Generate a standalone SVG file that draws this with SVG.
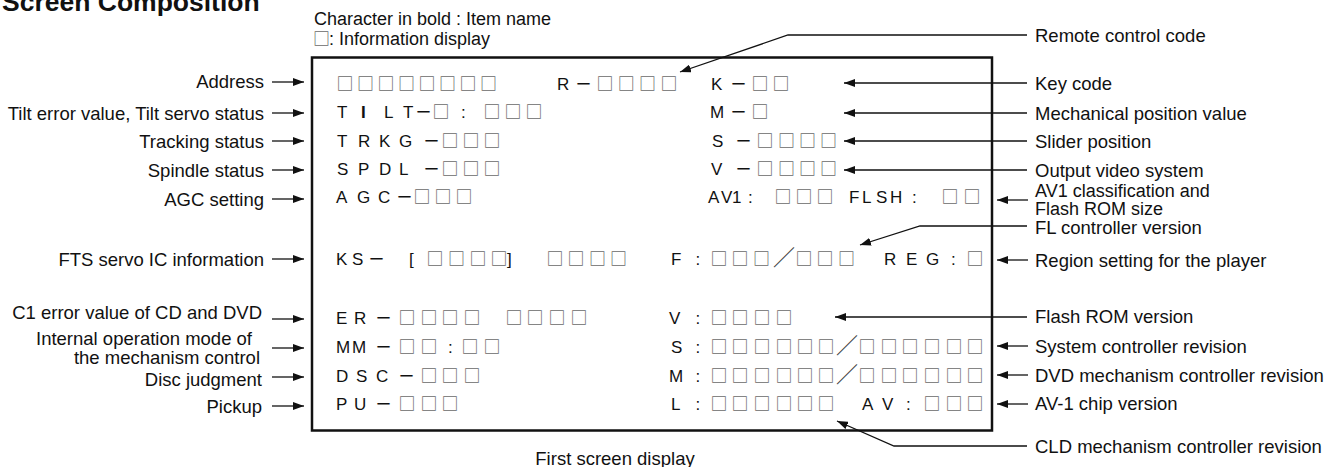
<svg xmlns="http://www.w3.org/2000/svg" width="1327" height="467" viewBox="0 0 1327 467">
<style>
.lbl{font-family:"Liberation Sans",Arial,sans-serif;font-size:18.5px;fill:#111}
.lg{font-family:"Liberation Sans",Arial,sans-serif;font-size:18px;fill:#111}
.ttl{font-family:"Liberation Sans",Arial,sans-serif;font-size:26.5px;font-weight:bold;fill:#111}
.b{font-family:"Liberation Sans",Arial,sans-serif;font-size:17px;fill:#111}
.q{font-family:"Noto Sans CJK JP",sans-serif;font-size:17px;font-weight:500;fill:#6a6a6a}
.d{font-family:"Noto Sans CJK JP",sans-serif;font-size:17px;font-weight:500}
.s{font-family:"Noto Sans CJK JP",sans-serif;font-size:22px;fill:#444}
.ln{stroke:#111;stroke-width:1.3;fill:none;marker-end:url(#ah)}
</style>
<defs>
<marker id="ah" markerUnits="userSpaceOnUse" markerWidth="11" markerHeight="8" refX="11" refY="4" orient="auto">
<path d="M0,0 L11,4 L0,8 z" fill="#111"/>
</marker>
</defs>
<text class="ttl" x="2" y="11">Screen Composition</text>
<g id="legend">
<text class="lg" x="314" y="25">Character in bold : Item name</text>
<text class="lg" x="314" y="45"><tspan class="q" x="313">□</tspan><tspan x="329">: Information display</tspan></text>
</g>
<g id="screen">
<rect x="312" y="57.5" width="680" height="373" fill="none" stroke="#111" stroke-width="2.5"/>
<text class="b" y="90"><tspan class="q" x="336.5 357 377.5 398 418.5 439 459.5 480">□□□□□□□□</tspan><tspan x="557">R</tspan><tspan class="d" x="575">－</tspan><tspan class="q" x="596.5 617.8 639 660.5">□□□□</tspan><tspan x="711">K</tspan><tspan class="d" x="730">－</tspan><tspan class="q" x="751.5 772.5">□□</tspan></text>
<text class="b" y="118"><tspan x="337">T</tspan><tspan x="361" font-weight="bold">I</tspan><tspan x="384 403">LT</tspan><tspan class="d" x="415">－</tspan><tspan class="q" x="432.5">□</tspan><tspan x="461">:</tspan><tspan class="q" x="483.5 504.5 525.5">□□□</tspan><tspan x="710">M</tspan><tspan class="d" x="730">－</tspan><tspan class="q" x="751.5">□</tspan></text>
<text class="b" y="147"><tspan x="337 358 379 399">TRKG</tspan><tspan class="d" x="423">－</tspan><tspan class="q" x="441.5 462.5 483.5">□□□</tspan><tspan x="712">S</tspan><tspan class="d" x="735">－</tspan><tspan class="q" x="756.5 778 799 820">□□□□</tspan></text>
<text class="b" y="175"><tspan x="337 358 379 399">SPDL</tspan><tspan class="d" x="423">－</tspan><tspan class="q" x="441.5 462.5 483.5">□□□</tspan><tspan x="711">V</tspan><tspan class="d" x="735">－</tspan><tspan class="q" x="756.5 778 799 820">□□□□</tspan></text>
<text class="b" y="203"><tspan x="336 357 378">AGC</tspan><tspan class="d" x="396">－</tspan><tspan class="q" x="413.5 434.5 455.5">□□□</tspan><tspan x="708 721 732 748">AV1:</tspan><tspan class="q" x="774.5 795.5 816.5">□□□</tspan><tspan x="849 862 876 890 912">FLSH:</tspan><tspan class="q" x="941.5 963.5">□□</tspan></text>
<text class="b" y="265"><tspan x="336 352">KS</tspan><tspan class="d" x="368">－</tspan><tspan x="409">[</tspan><tspan class="q" x="426.5 448 469.5 490.5">□□□□</tspan><tspan x="507">]</tspan><tspan class="q" x="546.5 567.5 589 610">□□□□</tspan><tspan x="671 695.5">F:</tspan><tspan class="q" x="710.5 731.5 753">□□□</tspan><tspan class="s" x="773">／</tspan><tspan class="q" x="795.5 816.5 838">□□□</tspan><tspan x="884 906 926 951">REG:</tspan><tspan class="q" x="966.5">□</tspan></text>
<text class="b" y="324"><tspan x="336 354">ER</tspan><tspan class="d" x="375">－</tspan><tspan class="q" x="398.5 420.5 441.5 463.5">□□□□</tspan><tspan class="q" x="505.5 526.5 548.5 570.5">□□□□</tspan><tspan x="669 695.5">V:</tspan><tspan class="q" x="710.5 731.5 753.5 775.5">□□□□</tspan></text>
<text class="b" y="353"><tspan x="336 352">MM</tspan><tspan class="d" x="375">－</tspan><tspan class="q" x="398.5 420.5">□□</tspan><tspan x="448">:</tspan><tspan class="q" x="461.5 483.5">□□</tspan><tspan x="671 695.5">S:</tspan><tspan class="q" x="710.5 731.5 753.5 775.5 796.5 817.5">□□□□□□</tspan><tspan class="s" x="836">／</tspan><tspan class="q" x="858.5 880.5 901.5 923.5 945.5 966.5">□□□□□□</tspan></text>
<text class="b" y="382"><tspan x="336 356 376">DSC</tspan><tspan class="d" x="398">－</tspan><tspan class="q" x="420.5 441.5 463.5">□□□</tspan><tspan x="669 695.5">M:</tspan><tspan class="q" x="710.5 731.5 753.5 775.5 796.5 817.5">□□□□□□</tspan><tspan class="s" x="836">／</tspan><tspan class="q" x="858.5 880.5 901.5 923.5 945.5 966.5">□□□□□□</tspan></text>
<text class="b" y="410"><tspan x="336 354">PU</tspan><tspan class="d" x="375">－</tspan><tspan class="q" x="398.5 420.5 441.5">□□□</tspan><tspan x="671 695.5">L:</tspan><tspan class="q" x="710.5 731.5 753.5 775.5 796.5 817.5">□□□□□□</tspan><tspan x="862 882 906">AV:</tspan><tspan class="q" x="923.5 945.5 966.5">□□□</tspan></text>
</g>
<text class="lbl" x="615" y="465" text-anchor="middle" font-size="19">First screen display</text>
<g id="left-labels" class="lbl" text-anchor="end">
<text x="264" y="88">Address</text>
<text x="264" y="119.5">Tilt error value, Tilt servo status</text>
<text x="264" y="148">Tracking status</text>
<text x="264" y="177">Spindle status</text>
<text x="264" y="206">AGC setting</text>
<text x="264" y="266">FTS servo IC information</text>
<text x="262" y="318.5">C1 error value of CD and DVD</text>
<text x="252" y="344.5">Internal operation mode of</text>
<text x="260" y="363.5">the mechanism control</text>
<text x="262" y="385.5">Disc judgment</text>
<text x="262" y="413">Pickup</text>
</g>
<g id="right-labels" class="lbl">
<text x="1035" y="41.5">Remote control code</text>
<text x="1035" y="89.5">Key code</text>
<text x="1035" y="119.5">Mechanical position value</text>
<text x="1035" y="147.5">Slider position</text>
<text x="1035" y="177">Output video system</text>
<text x="1035" y="196.5" font-size="18">AV1 classification and</text>
<text x="1035" y="215" font-size="18">Flash ROM size</text>
<text x="1035" y="233.5">FL controller version</text>
<text x="1035" y="266.5">Region setting for the player</text>
<text x="1035" y="322.5">Flash ROM version</text>
<text x="1035" y="352.5">System controller revision</text>
<text x="1035" y="381.5">DVD mechanism controller revision</text>
<text x="1035" y="409.5">AV-1 chip version</text>
<text x="1035" y="452.5">CLD mechanism controller revision</text>
</g>
<g id="connectors">
<path class="ln" d="M272,82 H304"/>
<path class="ln" d="M272,113 H304"/>
<path class="ln" d="M272,141 H304"/>
<path class="ln" d="M272,170 H304"/>
<path class="ln" d="M272,199 H304"/>
<path class="ln" d="M272,259 H304"/>
<path class="ln" d="M272,319 H304"/>
<path class="ln" d="M272,348 H304"/>
<path class="ln" d="M272,377 H304"/>
<path class="ln" d="M272,406 H304"/>
<path class="ln" d="M1027,35 H788 L680,72"/>
<path class="ln" d="M1027,83 H844"/>
<path class="ln" d="M1027,113 H844"/>
<path class="ln" d="M1027,141 H844"/>
<path class="ln" d="M1027,170 H844"/>
<path class="ln" d="M1028,200 H997"/>
<path class="ln" d="M1027,226 H920 L860,245"/>
<path class="ln" d="M1028,260 H997"/>
<path class="ln" d="M1027,317 H835"/>
<path class="ln" d="M1028,346 H997"/>
<path class="ln" d="M1028,375 H997"/>
<path class="ln" d="M1028,404 H997"/>
<path class="ln" d="M1027,446 H894 L837,421"/>
</g>
</svg>
